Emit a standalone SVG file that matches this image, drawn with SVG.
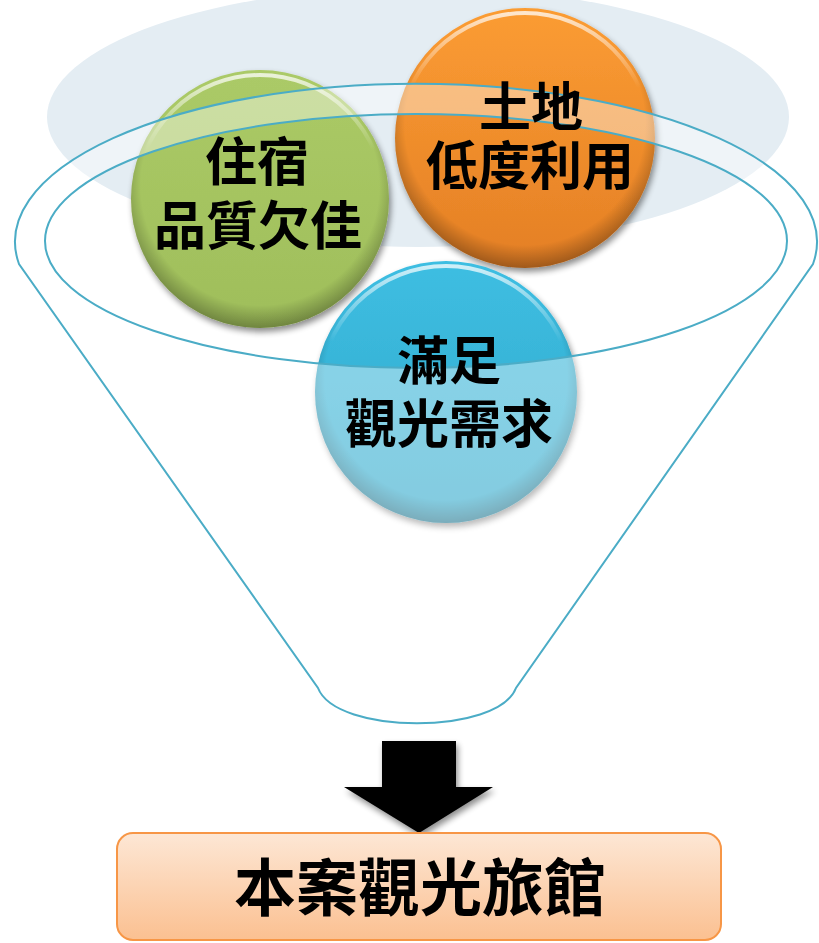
<svg xmlns="http://www.w3.org/2000/svg" width="819" height="943" viewBox="0 0 819 943">
<defs>
<style>
.t{font-family:"Liberation Sans","Noto Sans CJK TC","Noto Sans CJK SC",sans-serif;font-weight:700;font-size:52px;fill:#000;text-anchor:middle}
.rim{stroke:#4bacc6;stroke-width:2}
.edge{fill:url(#edge)}
.hl{fill:none;stroke:url(#hl);stroke-width:4}
</style>
<linearGradient id="gG" x1="0" y1="0" x2="0" y2="1"><stop offset="0" stop-color="#abca67"/><stop offset="1" stop-color="#9fbe5a"/></linearGradient>
<linearGradient id="gO" x1="0" y1="0" x2="0" y2="1"><stop offset="0" stop-color="#fb9c33"/><stop offset="1" stop-color="#e47f25"/></linearGradient>
<linearGradient id="gB" x1="0" y1="0" x2="0" y2="1"><stop offset="0" stop-color="#3ebee2"/><stop offset="1" stop-color="#30a8ca"/></linearGradient>
<radialGradient id="edge" cx="0.5" cy="0.45" r="0.55"><stop offset="0.84" stop-color="#000" stop-opacity="0"/><stop offset="1" stop-color="#000" stop-opacity="0.3"/></radialGradient>
<linearGradient id="hl" x1="0" y1="0" x2="0" y2="1"><stop offset="0" stop-color="#fff" stop-opacity="0.75"/><stop offset="0.3" stop-color="#fff" stop-opacity="0"/></linearGradient>
<linearGradient id="box" x1="0" y1="0" x2="0" y2="1"><stop offset="0" stop-color="#fde7d5"/><stop offset="1" stop-color="#fbc091"/></linearGradient>
<filter id="sh" x="-20%" y="-20%" width="140%" height="140%">
<feGaussianBlur in="SourceAlpha" stdDeviation="3"/>
<feOffset dx="2" dy="4"/>
<feComponentTransfer><feFuncA type="linear" slope="0.45"/></feComponentTransfer>
<feMerge><feMergeNode/><feMergeNode in="SourceGraphic"/></feMerge>
</filter>
</defs>

<ellipse id="backdrop" cx="418" cy="117" rx="371" ry="130" fill="#e4edf3"/>

<g id="node-green">
<g filter="url(#sh)"><circle cx="260" cy="199" r="129" fill="url(#gG)"/></g>
<circle class="edge" cx="260" cy="199" r="129"/>
<circle class="hl" cx="260" cy="199" r="124"/>
</g>

<g id="node-orange">
<g filter="url(#sh)"><circle cx="525" cy="138" r="130" fill="url(#gO)"/></g>
<circle class="edge" cx="525" cy="138" r="130"/>
<circle class="hl" cx="525" cy="138" r="125"/>
</g>

<g id="node-blue">
<g filter="url(#sh)"><circle cx="446" cy="392" r="131" fill="url(#gB)"/></g>
<circle class="edge" cx="446" cy="392" r="131"/>
<circle class="hl" cx="446" cy="392" r="126"/>
</g>

<g id="funnel">
<path class="rim" fill="#fff" fill-opacity="0.4" fill-rule="evenodd" d="M19,264 A401,158 0 1 1 813,264 L516,688 C498,735 336,735 318,688 Z M45,241 A371,127 0 1 0 787,241 A371,127 0 1 0 45,241 Z"/>
</g>

<g id="label-green">
<text class="t"><tspan x="257" y="181">住宿</tspan><tspan x="258" y="245">品質欠佳</tspan></text>
</g>
<g id="label-orange">
<text class="t"><tspan x="531" y="126">土地</tspan><tspan x="530" y="185">低度利用</tspan></text>
</g>
<g id="label-blue">
<text class="t"><tspan x="449" y="380">滿足</tspan><tspan x="449" y="443">觀光需求</tspan></text>
</g>

<g id="connectors">
<polygon filter="url(#sh)" points="382,741 456,741 456,787 493,787 419,833 344,787 382,787" fill="#000"/>
</g>

<g id="node-result">
<rect x="117" y="833" width="604" height="107" rx="16" fill="url(#box)" stroke="#f79646" stroke-width="2"/>
<text class="t" x="420" y="911" style="font-size:62px">本案觀光旅館</text>
</g>
</svg>
